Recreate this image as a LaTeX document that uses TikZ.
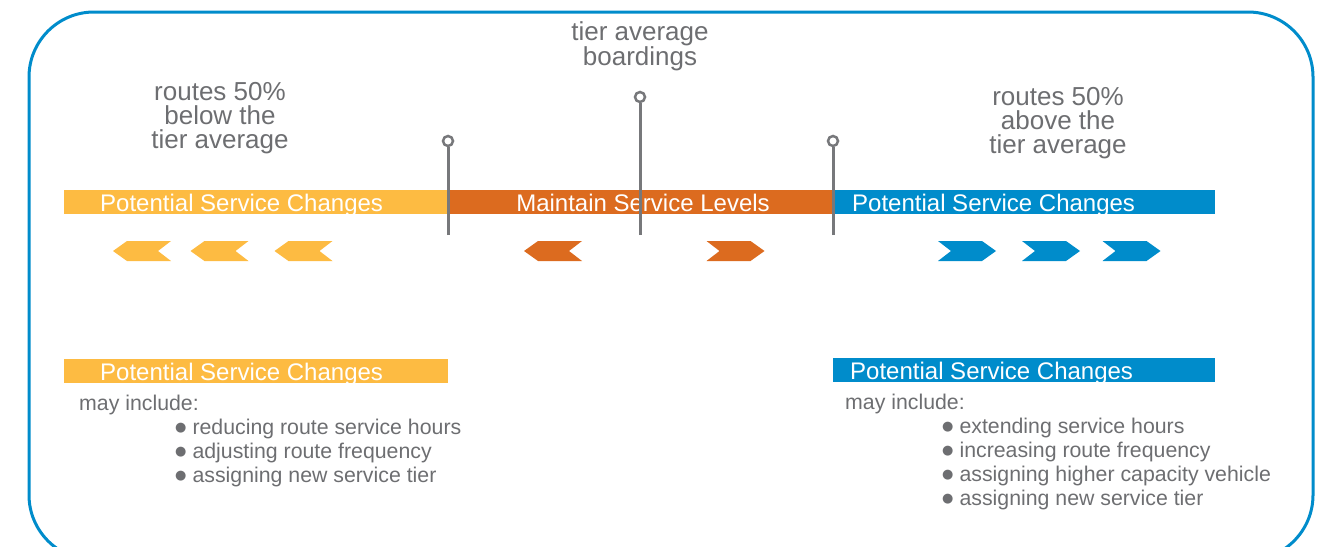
\documentclass[tikz,border=0pt]{standalone}
\usepackage{fontspec}
\setmainfont{Liberation Sans}
\newfontfamily\symfont{DejaVu Sans}
\usetikzlibrary{positioning}

\definecolor{lowyellow}{HTML}{FDBB42}
\definecolor{midorange}{HTML}{DC6B1F}
\definecolor{highblue}{HTML}{008CCB}
\definecolor{textgray}{HTML}{6D6E71}
\definecolor{pingray}{HTML}{77787B}

\newcommand{\bul}{\raisebox{3pt}{\symfont\fontsize{13}{13}\selectfont ●}\hspace{6pt}}

\tikzset{
  bar/.style={fill=#1, inner sep=0pt, minimum height=24pt, minimum width=384pt},
  bartext/.style={text=white, inner sep=0pt, font=\fontsize{24}{24}\selectfont},
  heading/.style={text=textgray, align=center, inner sep=0pt, font=\fontsize{26}{24}\selectfont},
  listtext/.style={text=textgray, align=left, inner sep=0pt, anchor=west, font=\fontsize{21.3}{24}\selectfont},
  pinhead/.style={circle, draw=pingray, line width=2.5pt, fill=white, minimum size=10pt, inner sep=0pt},
  pin/.style={draw=pingray, line width=3pt},
  frame/.style={draw=highblue, line width=3pt, rounded corners=65pt},
  pics/lchev/.style={code={\path[pic actions] (-29,0) -- (-15,-10) -- (29,-10) -- (16,0) -- (29,10) -- (-15,10) -- cycle;}},
  pics/rchev/.style={code={\path[pic actions] (29,0) -- (15,-10) -- (-29,-10) -- (-16,0) -- (-29,10) -- (15,10) -- cycle;}}
}

\begin{document}
\begin{tikzpicture}[x=1pt, y=-1pt]
    \useasboundingbox (0,0) rectangle (1327,546);
    \clip (0,0) rectangle (1327,546);
    \draw [frame] (29,12) rectangle (1313,560);

    % top headings
    \node [heading] (below) at (220,118.5) {routes 50\%\\below the\\tier average};
    \node [heading] (avg)   at (640,46.5)  {tier average\\boardings};
    \node [heading] (above) at (1058,123.5) {routes 50\%\\above the\\tier average};

    % scale bar
    \node [bar=lowyellow]                      (lowbar)  at (256,202)  {};
    \node [bar=midorange, minimum width=385pt] (midbar)  at (640.5,202) {};
    \node [bar=highblue, minimum width=382pt]  (highbar) at (1024,202) {};
    \node [bartext, anchor=base west] (lowlabel)  at (100,211)   {Potential Service Changes};
    \node [bartext, anchor=base]      (midlabel)  at (643,211)   {Maintain Service Levels};
    \node [bartext, anchor=base west] (highlabel) at (852,211)   {Potential Service Changes};

    % pins
    \node [pinhead] (pinlow)  at (448,141) {};
    \node [pinhead] (pinavg)  at (640,97)  {};
    \node [pinhead] (pinhigh) at (833,141) {};
    \coordinate (footlow)  at (448,235);
    \coordinate (footavg)  at (640,235);
    \coordinate (foothigh) at (833,235);
    \path [pin] (footlow)  -- (pinlow.south);
    \path [pin] (footavg)  -- (pinavg.south);
    \path [pin] (foothigh) -- (pinhigh.south);

    % chevrons
    \foreach \x in {142,219.5,303.5}
        \pic [fill=lowyellow] at (\x,251) {lchev};
    \pic [fill=midorange] at (553,251) {lchev};
    \pic [fill=midorange] at (735.5,251) {rchev};
    \foreach \x in {967,1051,1131.5}
        \pic [fill=highblue] at (\x,251) {rchev};

    % lower boxes
    \node [bar=lowyellow]                     (lowbox)  at (256,371)  {};
    \node [bar=highblue, minimum width=382pt] (highbox) at (1024,370) {};
    \node [bartext, anchor=base west] (lowboxlabel)  at (100,380) {Potential Service Changes};
    \node [bartext, anchor=base west] (highboxlabel) at (850,379) {Potential Service Changes};

    \node [listtext] (lowmay)  at (79,405)  {may include:};
    \node [listtext] (highmay) at (845,404) {may include:};
    \node [listtext] (lowlist) at (175,453)
        {\bul reducing route service hours\\\bul adjusting route frequency\\\bul assigning new service tier};
    \node [listtext] (highlist) at (942,464)
        {\bul extending service hours\\\bul increasing route frequency\\\bul assigning higher capacity vehicle\\\bul assigning new service tier};
\end{tikzpicture}
\end{document}
